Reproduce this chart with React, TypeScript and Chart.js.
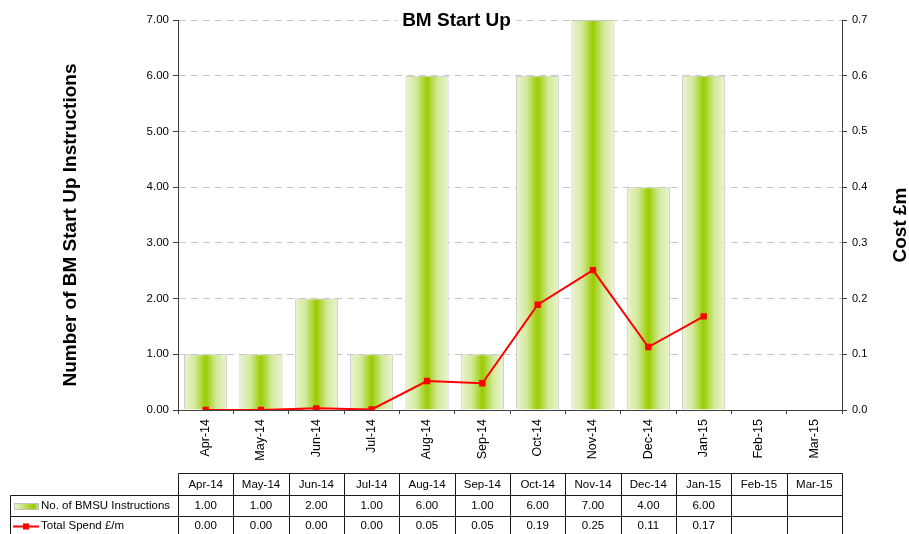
import React, { useEffect, useRef } from 'react';
import { Chart, registerables } from 'chart.js';

Chart.register(...registerables);

const TITLE = 'BM Start Up';
const Y_TITLE = 'Number of BM Start Up Instructions';
const Y1_TITLE = 'Cost £m';
const BAR_LABEL = 'No. of BMSU Instructions';
const LINE_LABEL = 'Total Spend £/m';

const CATEGORIES = ['Apr-14', 'May-14', 'Jun-14', 'Jul-14', 'Aug-14', 'Sep-14', 'Oct-14', 'Nov-14', 'Dec-14', 'Jan-15', 'Feb-15', 'Mar-15'];
const INSTRUCTIONS: (number | null)[] = [1, 1, 2, 1, 6, 1, 6, 7, 4, 6, null, null];
const SPEND: (number | null)[] = [0.0, 0.0, 0.003, 0.001, 0.052, 0.048, 0.189, 0.251, 0.113, 0.168, null, null];

const FONT = "'Liberation Sans', Arial, sans-serif";
const AXIS_COLOR = '#404040';
const BAR_PCT = 0.78;

function barFill(c: any) {
  const chart = c.chart;
  if (c.type !== 'data' || !chart.chartArea) return '#99cc00';
  const xs = chart.scales.x;
  const cx = xs.getPixelForValue(c.dataIndex);
  const w = xs.getPixelForValue(1) - xs.getPixelForValue(0);
  const half = (w * BAR_PCT) / 2;
  const g = chart.ctx.createLinearGradient(cx - half, 0, cx + half, 0);
  g.addColorStop(0, '#ebf4d2');
  g.addColorStop(0.25, '#d3e99c');
  g.addColorStop(0.5, '#99cc00');
  g.addColorStop(0.75, '#d3e99c');
  g.addColorStop(1, '#ebf4d2');
  return g;
}

const textPlugin = {
  id: 'textPlugin',
  afterDraw(chart: any) {
    const ctx: CanvasRenderingContext2D = chart.ctx;
    ctx.save();
    ctx.font = `bold 19px ${FONT}`;
    ctx.textAlign = 'center';
    ctx.textBaseline = 'alphabetic';
    const tw = ctx.measureText(TITLE).width;
    ctx.fillStyle = '#ffffff';
    ctx.fillRect(456.5 - tw / 2 - 5, 8, tw + 10, 24);
    ctx.fillStyle = '#000000';
    ctx.fillText(TITLE, 456.5, 26);

    ctx.save();
    ctx.translate(75.5, 225);
    ctx.rotate(-Math.PI / 2);
    ctx.fillText(Y_TITLE, 0, 0);
    ctx.restore();

    ctx.save();
    ctx.translate(906, 225);
    ctx.rotate(-Math.PI / 2);
    ctx.fillText(Y1_TITLE, 0, 0);
    ctx.restore();

    // data table
    const xs = chart.scales.x;
    const n = CATEGORIES.length;
    const colW = xs.getPixelForValue(1) - xs.getPixelForValue(0);
    const edges: number[] = [];
    for (let i = 0; i <= n; i++) edges.push(Math.round(xs.getPixelForValue(0) - colW / 2 + i * colW) + 0.5);
    const L = edges[0];
    const R = edges[n];
    const yTop = 473.5, y1 = 495.5, y2 = 516.5, yBot = 538;
    const legL = 10.5;
    ctx.strokeStyle = '#1a1a1a';
    ctx.lineWidth = 1;
    ctx.beginPath();
    ctx.moveTo(L, yTop); ctx.lineTo(R, yTop);
    ctx.moveTo(legL, y1); ctx.lineTo(R, y1);
    ctx.moveTo(legL, y2); ctx.lineTo(R, y2);
    ctx.moveTo(legL, y1); ctx.lineTo(legL, yBot);
    for (const e of edges) { ctx.moveTo(e, yTop); ctx.lineTo(e, yBot); }
    ctx.stroke();

    ctx.font = `11.5px ${FONT}`;
    ctx.fillStyle = '#000000';
    ctx.textAlign = 'center';
    ctx.textBaseline = 'middle';
    for (let i = 0; i < n; i++) {
      const cx = xs.getPixelForValue(i);
      ctx.fillText(CATEGORIES[i], cx, 485);
      const a = INSTRUCTIONS[i];
      const b = SPEND[i];
      if (a !== null && a !== undefined) ctx.fillText(a.toFixed(2), cx, 505.5);
      if (b !== null && b !== undefined) ctx.fillText(b.toFixed(2), cx, 526);
    }
    ctx.textAlign = 'left';
    ctx.fillText(BAR_LABEL, 41, 505.5);
    ctx.fillText(LINE_LABEL, 41, 526);

    // legend keys
    const g = ctx.createLinearGradient(14, 0, 39, 0);
    g.addColorStop(0, '#eef6da');
    g.addColorStop(0.8, '#99cc00');
    g.addColorStop(1, '#cfe69a');
    ctx.fillStyle = g;
    ctx.fillRect(14, 503, 25, 7);
    ctx.strokeStyle = '#c0c0c0';
    ctx.strokeRect(14.5, 503.5, 24, 6);
    ctx.strokeStyle = '#ff0000';
    ctx.lineWidth = 2;
    ctx.beginPath();
    ctx.moveTo(13, 526.5); ctx.lineTo(39, 526.5);
    ctx.stroke();
    ctx.fillStyle = '#ff0000';
    ctx.fillRect(23, 523.5, 6, 6);
    ctx.restore();
  },
};

export default function App() {
  const ref = useRef<HTMLCanvasElement>(null);
  useEffect(() => {
    const canvas = ref.current!;
    Chart.defaults.font.family = FONT;
    const chart = new Chart(canvas, {
      type: 'bar',
      data: {
        labels: CATEGORIES,
        datasets: [
          {
            type: 'line',
            label: LINE_LABEL,
            data: SPEND as any,
            yAxisID: 'y1',
            borderColor: '#ff0000',
            backgroundColor: '#ff0000',
            borderWidth: 2,
            pointStyle: 'rect',
            pointRadius: 4.5,
            pointBorderWidth: 0,
            tension: 0,
            order: 0,
          } as any,
          {
            type: 'bar',
            label: BAR_LABEL,
            data: INSTRUCTIONS as any,
            yAxisID: 'y',
            backgroundColor: barFill,
            borderColor: '#c4c4c4',
            borderWidth: 1,
            barPercentage: BAR_PCT,
            categoryPercentage: 1,
            order: 1,
          } as any,
        ],
      },
      options: {
        responsive: false,
        animation: false,
        devicePixelRatio: 1,
        layout: { padding: { top: 20, left: 0, right: 0, bottom: 0 } },
        plugins: {
          legend: { display: false },
          title: { display: false },
          tooltip: { enabled: false },
        },
        scales: {
          x: {
            offset: true,
            grid: { offset: true, drawOnChartArea: false, drawTicks: true, tickLength: 4, tickColor: AXIS_COLOR, color: AXIS_COLOR },
            border: { color: AXIS_COLOR, width: 1 },
            ticks: { autoSkip: false, minRotation: 90, maxRotation: 90, color: '#000', font: { size: 12.5 }, padding: 5 },
            afterFit: (s: any) => { s.height = 124; },
          },
          y: {
            position: 'left',
            min: 0,
            max: 7,
            ticks: { stepSize: 1, callback: (v: any) => Number(v).toFixed(2), color: '#000', font: { size: 11.5 }, padding: 4 },
            grid: { color: '#c8c8c8', tickColor: AXIS_COLOR, tickLength: 5, tickBorderDash: [] },
            border: { color: AXIS_COLOR, dash: [7, 5] },
            afterFit: (s: any) => { s.width = 178; },
          },
          y1: {
            position: 'right',
            min: 0,
            max: 0.7,
            ticks: { stepSize: 0.1, callback: (v: any) => Number(v).toFixed(1), color: '#000', font: { size: 11 }, padding: 5 },
            grid: { drawOnChartArea: false, tickColor: AXIS_COLOR, color: AXIS_COLOR, tickLength: 5 },
            border: { color: AXIS_COLOR },
            afterFit: (s: any) => { s.width = 67; },
          },
        },
      } as any,
      plugins: [textPlugin],
    });
    return () => chart.destroy();
  }, []);
  return (
    <div style={{ position: 'absolute', left: 0, top: 0, width: 909, height: 534 }}>
      <canvas ref={ref} width={909} height={534} style={{ display: 'block', width: 909, height: 534 }} />
    </div>
  );
}
